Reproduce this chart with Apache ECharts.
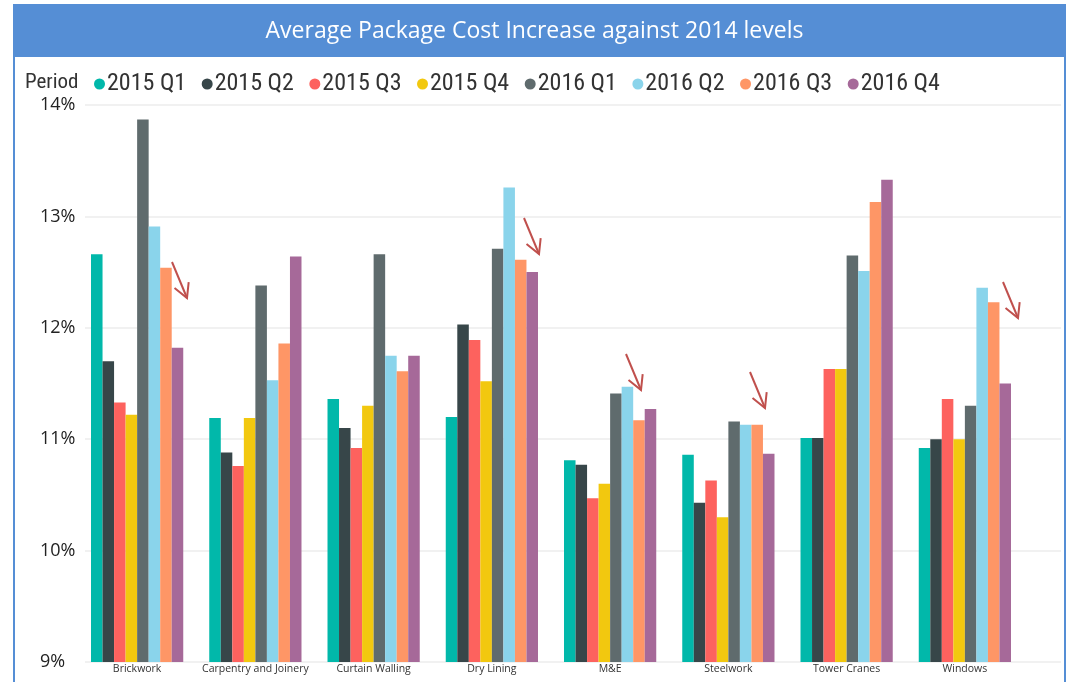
<!DOCTYPE html>
<html>
<head>
<meta charset="utf-8">
<script src="https://cdn.jsdelivr.net/npm/echarts@6/dist/echarts.min.js"></script>
<style>
  html, body { margin: 0; padding: 0; background: #fff; }
  #main { width: 1069px; height: 682px; }
</style>
</head>
<body>
<div id="main"></div>
<script>
// categories and periods
var categories = ['Brickwork', 'Carpentry and Joinery', 'Curtain Walling', 'Dry Lining', 'M&E', 'Steelwork', 'Tower Cranes', 'Windows'];
var periods = ['2015 Q1', '2015 Q2', '2015 Q3', '2015 Q4', '2016 Q1', '2016 Q2', '2016 Q3', '2016 Q4'];

// % increase, one array per period, in category order
var q1_2015 = [12.66, 11.19, 11.36, 11.20, 10.81, 10.86, 11.01, 10.92];
var q2_2015 = [11.70, 10.88, 11.10, 12.03, 10.77, 10.43, 11.01, 11.00];
var q3_2015 = [11.33, 10.76, 10.92, 11.89, 10.47, 10.63, 11.63, 11.36];
var q4_2015 = [11.22, 11.19, 11.30, 11.52, 10.60, 10.30, 11.63, 11.00];
var q1_2016 = [13.87, 12.38, 12.66, 12.71, 11.41, 11.16, 12.65, 11.30];
var q2_2016 = [12.91, 11.53, 11.75, 13.26, 11.47, 11.13, 12.51, 12.36];
var q3_2016 = [12.54, 11.86, 11.61, 12.61, 11.17, 11.13, 13.13, 12.23];
var q4_2016 = [11.82, 12.64, 11.75, 12.50, 11.27, 10.87, 13.33, 11.50];

var periodValues = [q1_2015, q2_2015, q3_2015, q4_2015, q1_2016, q2_2016, q3_2016, q4_2016];

// y axis ticks
var yMin = 9;
var yMax = 14;
var yStep = 1;

var colors = ['#01B8AA', '#374649', '#FD625E', '#F2C80F', '#5F6B6D', '#8AD4EB', '#FE9666', '#A66999'];

// hand drawn red arrows on top of the picture (from -> tip, pixels)
var arrows = [
    {from: [172, 262], to: [187, 298]},
    {from: [524, 218], to: [539, 254]},
    {from: [626, 354], to: [641, 390]},
    {from: [750, 372], to: [765, 408]},
    {from: [1003, 282], to: [1018, 318]}
];

var legendFont = "'Liberation Sans Narrow', 'Roboto Condensed', 'Arial Narrow', sans-serif";

function arrowGraphics() {
    var out = [];
    arrows.forEach(function (a) {
        var dx = a.to[0] - a.from[0], dy = a.to[1] - a.from[1];
        var ang = Math.atan2(dy, dx);
        var len = 16, spread = 0.5;
        var w1 = [a.to[0] - len * Math.cos(ang - spread), a.to[1] - len * Math.sin(ang - spread)];
        var w2 = [a.to[0] - len * Math.cos(ang + spread), a.to[1] - len * Math.sin(ang + spread)];
        out.push({
            type: 'polyline', z: 100,
            shape: {points: [a.from, a.to]},
            style: {stroke: '#C0504D', lineWidth: 2, fill: null}
        });
        out.push({
            type: 'polyline', z: 100,
            shape: {points: [w1, a.to, w2]},
            style: {stroke: '#C0504D', lineWidth: 2, fill: null}
        });
    });
    return out;
}

var chart = echarts.init(document.getElementById('main'));

var series = periods.map(function (p, i) {
    return {
        name: p,
        type: 'bar',
        xAxisIndex: 0,
        yAxisIndex: 0,
        data: periodValues[i],
        barGap: '0%',
        barCategoryGap: '22%',
        itemStyle: {color: colors[i]}
    };
});

var option = {
    animation: false,
    backgroundColor: '#ffffff',
    color: colors,
    title: [{
        text: 'Average Package Cost Increase against 2014 levels',
        left: 'center',
        top: 20,
        padding: 0,
        textStyle: {color: '#ffffff', fontSize: 23, fontWeight: 'normal', fontFamily: "'Open Sans', sans-serif"}
    }, {
        text: 'Period',
        left: 25,
        top: 72,
        padding: 0,
        textStyle: {color: '#333333', fontSize: 21, fontWeight: 'normal', fontFamily: legendFont}
    }],
    legend: {
        data: periods,
        left: 89,
        top: 67,
        icon: 'circle',
        itemWidth: 11,
        itemHeight: 11,
        itemGap: 15.5,
        textStyle: {color: '#333333', fontSize: 24, fontFamily: legendFont, width: 76, padding: [0, 0, 0, -3]}
    },
    grid: [
        {left: 78, right: 45, top: 105, bottom: 20, containLabel: false},
        {left: 85, right: 8, top: 105, bottom: 20, containLabel: false}
    ],
    xAxis: [{
        type: 'category',
        gridIndex: 0,
        data: categories,
        axisLine: {show: false},
        axisTick: {show: false},
        axisLabel: {color: '#333333', fontSize: 10.5, margin: 2, interval: 0, fontFamily: "'Open Sans', sans-serif"}
    }, {
        type: 'value',
        gridIndex: 1,
        show: false
    }],
    yAxis: [{
        type: 'value',
        gridIndex: 0,
        min: yMin,
        max: yMax,
        interval: yStep,
        axisLine: {show: false},
        axisTick: {show: false},
        splitLine: {show: false},
        axisLabel: {
            formatter: '{value}%',
            color: '#222222',
            fontSize: 18,
            align: 'left',
            margin: 38,
            fontFamily: "'Open Sans', sans-serif"
        }
    }, {
        type: 'value',
        gridIndex: 1,
        min: yMin,
        max: yMax,
        interval: yStep,
        axisLine: {show: false},
        axisTick: {show: false},
        axisLabel: {show: false},
        splitLine: {show: true, lineStyle: {color: '#ECECEC', width: 1.5}}
    }],
    graphic: [{
        type: 'rect', z: -1,
        shape: {x: 14, y: 5, width: 1051, height: 700},
        style: {fill: null, stroke: '#558ED5', lineWidth: 2}
    }, {
        type: 'rect', z: -1,
        shape: {x: 14, y: 5, width: 1051, height: 52},
        style: {fill: '#558ED5'}
    }].concat(arrowGraphics()),
    series: series
};

chart.setOption(option);
</script>
</body>
</html>
